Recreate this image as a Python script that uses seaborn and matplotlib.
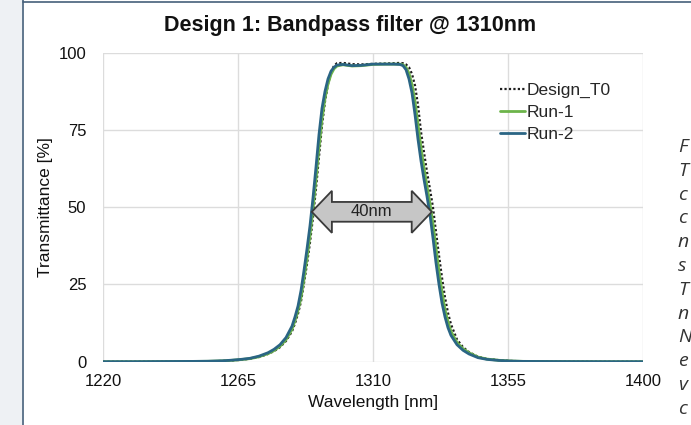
import matplotlib
matplotlib.use("Agg")
import matplotlib.pyplot as plt
import seaborn as sns
import pandas as pd
from matplotlib.patches import Polygon

# ---------------- data ----------------
wavelength = [1220, 1230, 1240, 1250, 1255, 1260, 1263, 1266, 1269, 1272, 1275, 1277,
              1279, 1281, 1283, 1284, 1285, 1286, 1287, 1288, 1289, 1290, 1291, 1292,
              1293, 1294, 1295, 1296, 1297, 1298, 1300, 1303, 1306, 1310, 1314, 1317,
              1319, 1320, 1321, 1322, 1323, 1324, 1325, 1326, 1327, 1328, 1329, 1330,
              1331, 1332, 1333, 1334, 1335, 1336, 1338, 1340, 1342, 1345, 1348, 1352,
              1356, 1360, 1370, 1380, 1390, 1400]

design_t0 = [0.0, 0.0, 0.03, 0.08, 0.12, 0.25, 0.4, 0.62, 0.95, 1.5, 2.5, 3.4,
             4.7, 6.7, 9.8, 12.4, 15.5, 19.5, 25.4, 31.6, 38.6, 46.7, 56.0, 66.3,
             76.4, 84.2, 89.8, 93.6, 95.8, 96.6, 96.7, 96.3, 96.2, 96.4, 96.5, 96.6,
             96.7, 96.6, 96.2, 95.3, 93.1, 89.4, 83.1, 74.4, 67.8, 61.4, 55.8, 49.9,
             42.0, 34.4, 27.2, 20.8, 15.8, 12.1, 7.2, 4.7, 3.1, 1.6, 0.9, 0.5,
             0.25, 0.12, 0.05, 0.02, 0.0, 0.0]

run_1 = [0.0, 0.0, 0.04, 0.09, 0.13, 0.27, 0.45, 0.68, 1.0, 1.6, 2.6, 3.6,
         5.0, 7.1, 10.5, 13.3, 16.6, 20.8, 26.8, 33.5, 41.0, 49.4, 59.0, 69.3,
         78.6, 85.3, 89.9, 93.0, 94.8, 95.7, 96.1, 95.7, 95.8, 96.2, 96.3, 96.3,
         96.3, 96.1, 95.3, 93.3, 89.7, 84.2, 76.8, 69.2, 62.6, 56.8, 51.1, 44.5,
         36.8, 29.2, 22.6, 16.8, 12.9, 9.8, 6.2, 4.2, 2.9, 1.5, 0.85, 0.45,
         0.22, 0.11, 0.05, 0.02, 0.0, 0.0]

run_2 = [0.0, 0.0, 0.05, 0.1, 0.15, 0.3, 0.5, 0.75, 1.1, 1.8, 2.9, 4.0,
         5.5, 7.8, 11.5, 14.5, 18.0, 23.0, 29.5, 36.5, 44.0, 53.0, 63.0, 73.5,
         82.0, 87.5, 91.5, 94.0, 95.3, 96.0, 96.2, 95.8, 95.9, 96.3, 96.3, 96.3,
         96.2, 95.8, 94.5, 91.5, 87.0, 80.0, 72.0, 65.0, 59.0, 53.5, 47.5, 40.0,
         32.0, 25.0, 19.0, 14.5, 11.0, 8.5, 5.5, 3.7, 2.5, 1.3, 0.75, 0.4,
         0.2, 0.1, 0.05, 0.02, 0.0, 0.0]

series_names = ["Design_T0", "Run-1", "Run-2"]
x_ticks = [1220, 1265, 1310, 1355, 1400]
y_ticks = [0, 25, 50, 75, 100]

# bandwidth annotation (FWHM arrow)
arrow_left, arrow_right, arrow_level = 1289.6, 1329.6, 48.5
arrow_label = "40nm"

caption_letters = ["F", "T", "c", "c", "n", "s", "T", "n", "N", "e", "v", "c"]

# ---------------- styling ----------------
sns.set_style("white")
plt.rcParams["font.family"] = ["Liberation Sans", "DejaVu Sans"]

W, H = 691, 425
fig = plt.figure(figsize=(W / 100, H / 100), dpi=100)
fig.patch.set_facecolor("white")

# page decorations: grey left strip and frame lines
fig.add_artist(plt.Rectangle((0, 0), 22 / W, 1, transform=fig.transFigure,
                             facecolor="#eef1f4", edgecolor="none", zorder=0))
fig.add_artist(plt.Line2D([22.5 / W, 22.5 / W], [0, 1], transform=fig.transFigure,
                          color="#45607a", lw=1.2))
fig.add_artist(plt.Line2D([22.5 / W, 1], [1 - 1.5 / H, 1 - 1.5 / H],
                          transform=fig.transFigure, color="#45607a", lw=1.2))

ax = fig.add_axes([103 / W, 1 - 361.7 / H, 540 / W, 309 / H])

df = pd.DataFrame({"Wavelength": wavelength,
                   "Design_T0": design_t0, "Run-1": run_1, "Run-2": run_2})

sns.lineplot(data=df, x="Wavelength", y="Design_T0", ax=ax, color="#1e1e1e",
             lw=1.6, linestyle=(0, (1, 1)), label="Design_T0", zorder=3)
sns.lineplot(data=df, x="Wavelength", y="Run-1", ax=ax, color="#6cb44a",
             lw=2.0, label="Run-1", zorder=4)
sns.lineplot(data=df, x="Wavelength", y="Run-2", ax=ax, color="#2a6584",
             lw=2.0, label="Run-2", zorder=5)

ax.set_xlim(x_ticks[0], x_ticks[-1])
ax.set_ylim(y_ticks[0], y_ticks[-1])
ax.set_xticks(x_ticks)
ax.set_yticks(y_ticks)
ax.grid(True, color="#dcdcdc", lw=1.0)
ax.set_axisbelow(True)
for s in ax.spines.values():
    s.set_visible(False)
ax.tick_params(axis="both", length=0, labelsize=12, colors="#111111")
ax.tick_params(axis="x", pad=9)
ax.tick_params(axis="y", pad=12)
ax.set_xlabel("Wavelength [nm]", fontsize=12.5, labelpad=4, color="#111111")
ax.set_ylabel("Transmittance [%]", fontsize=12.5, labelpad=4, color="#111111")

# double-headed block arrow
head_len = 6.7
body_half = 3.2
head_half = 6.8
pts = [(arrow_left, arrow_level),
       (arrow_left + head_len, arrow_level + head_half),
       (arrow_left + head_len, arrow_level + body_half),
       (arrow_right - head_len, arrow_level + body_half),
       (arrow_right - head_len, arrow_level + head_half),
       (arrow_right, arrow_level),
       (arrow_right - head_len, arrow_level - head_half),
       (arrow_right - head_len, arrow_level - body_half),
       (arrow_left + head_len, arrow_level - body_half),
       (arrow_left + head_len, arrow_level - head_half)]
ax.add_patch(Polygon(pts, closed=True, facecolor="#c6c6c6", edgecolor="#3a3a3a",
                     lw=1.3, zorder=6))
ax.text((arrow_left + arrow_right) / 2, arrow_level, arrow_label, ha="center",
        va="center", fontsize=12, color="#222222", zorder=7)

leg = ax.legend(loc="upper left", bbox_to_anchor=(0.722, 0.925), frameon=False,
                fontsize=12.5, handlelength=1.45, handletextpad=0.1,
                labelspacing=0.4, borderaxespad=0)

fig.text(350 / W, 1 - 25 / H, "Design 1: Bandpass filter @ 1310nm", ha="center",
         va="center", fontsize=15.5, fontweight="bold", color="#111111")

# clipped caption text from the neighbouring page column
for i, ch in enumerate(caption_letters):
    fig.text(678 / W, 1 - (147 + 23.8 * i) / H, ch, ha="left", va="center",
             fontsize=14, style="italic", color="#333333", family="Open Sans")

fig.savefig("out.png", dpi=100)
